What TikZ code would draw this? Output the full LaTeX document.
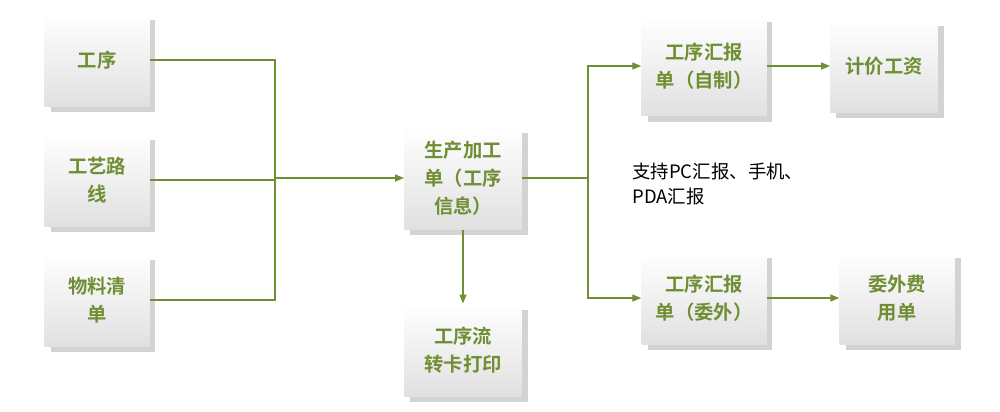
\documentclass[tikz,border=0pt]{standalone}
\usepackage{fontspec}
\setmainfont{Noto Sans CJK SC}
\newfontfamily\cjkbold{Noto Sans CJK SC Bold}
\usetikzlibrary{positioning,shadows,arrows.meta}
\definecolor{leaf}{RGB}{112,142,52}
\tikzset{
  card/.style={minimum width=2.1cm,minimum height=1.85cm,align=center,
    top color=white,bottom color=black!12,
    drop shadow={opacity=0.35,shadow xshift=1.2mm,shadow yshift=-1.2mm},
    font=\cjkbold\fontsize{11}{16}\selectfont,text=leaf},
  wire/.style={leaf,line width=0.6pt},
  flow/.style={wire,-{Triangle[length=5pt,width=4pt]}}
}
\begin{document}
\begin{tikzpicture}[x=0.02cm,y=-0.02cm]
\useasboundingbox (0,0) rectangle (1000,412);
\node[card] (proc) at (97,60) {工序};
\node[card] (route) at (97,180) {工艺路\\线};
\node[card] (bom) at (97,300) {物料清\\单};
\node[card,minimum height=2.05cm,minimum width=2.35cm] (order) at (463,178) {生产加工\\单（工序\\信息）};
\node[card,minimum width=2.35cm] (card) at (463,350) {工序流\\转卡打印};
\node[card,minimum width=2.5cm,minimum height=2cm] (self) at (704,66) {工序汇报\\单（自制）};
\node[card,minimum width=2.15cm] (wage) at (884,66) {计价工资};
\node[card,minimum width=2.5cm] (out) at (704,298) {工序汇报\\单（委外）};
\node[card,minimum width=2.3cm] (fee) at (897,298) {委外费\\用单};
\node[anchor=north west,align=left,font=\fontsize{10.5}{14}\selectfont,inner sep=0pt] (note) at (632,163) {支持PC汇报、手机、\\PDA汇报};
% merge on the left
\coordinate (jl) at (275,178);
\draw[wire] (proc.east) -| (jl);
\draw[wire] (bom.east) -| (jl);
\draw[wire] (route.east) -- (route.east -| jl);
\draw[flow] (jl) -- (order.west);
\draw[flow] (order.south) -- (card.north);
% split on the right
\coordinate (jr) at (588,178);
\draw[wire] (order.east) -- (jr);
\draw[flow] (jr) |- (self.west);
\draw[flow] (jr) |- (out.west);
\draw[flow] (self.east) -- (wage.west);
\draw[flow] (out.east) -- (fee.west);
\end{tikzpicture}
\end{document}
